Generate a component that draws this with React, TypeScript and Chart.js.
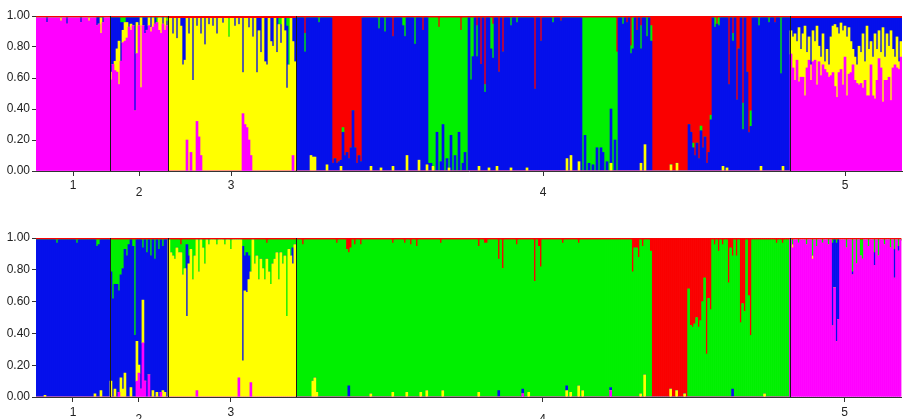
import React, { useEffect, useRef } from "react";
import { Chart, registerables } from "chart.js";

Chart.register(...registerables);

// cluster indices (stack order bottom -> top)
const M = 0, Y = 1, B = 2, G = 3, R = 4;
const CLUSTER_NAMES = ["Cluster 1", "Cluster 2", "Cluster 3", "Cluster 4", "Cluster 5"];
const CLUSTER_COLORS = ["#FF00FF", "#FFFF00", "#0510EB", "#00F000", "#FA0000"];

const POPULATIONS = ["1", "2", "3", "4", "5"];
const POP_SIZES = [37, 29, 64, 247, 56];
const Y_TICKS = [0, 0.2, 0.4, 0.6, 0.8, 1.0];

// runs of individuals: [count, dominant cluster, thin top fringe (cluster 5)]
const TOP_BLOCKS: number[][] = [
  [37, M, 0.012], [29, M, 0.012], [64, Y, 0.015],
  [18, B, 0.012], [15, R, 0.0], [33, B, 0.012], [20, G, 0.012], [57, B, 0.012],
  [18, G, 0.012], [17, B, 0.012], [30, R, 0.0], [39, B, 0.012],
  [56, M, 0.015],
];

// admixture: [individual index, cluster, proportion]
const TOP_ADMIX: number[][] = [
  [5, B, .03], [12, Y, .02], [15, B, .04], [22, B, .03], [26, Y, .02], [30, B, .05], [31, B, .04], [32, Y, .1], [33, B, .03],
  [37, B, .35], [37, Y, .05], [38, B, .3], [39, B, .28], [39, Y, .06], [40, B, .2], [40, Y, .15], [41, B, .15], [41, Y, .28],
  [42, B, .25], [42, G, .03], [43, B, .05], [43, Y, .08], [43, G, .03], [44, G, .03], [44, Y, .12], [45, Y, .1], [45, B, .03],
  [46, B, .06], [47, Y, .04], [47, B, .04], [48, B, .05], [49, B, .6], [50, Y, .2], [50, B, .03], [51, B, .05], [52, Y, .45],
  [53, B, .05], [54, B, .1], [55, B, .08], [56, Y, .05], [57, B, .06], [57, Y, .03], [58, Y, .06], [59, B, .04], [60, G, .03],
  [61, Y, .08], [62, Y, .1], [63, B, .04], [64, Y, .08], [65, B, .03], [65, G, .02],
  [68, B, .1], [70, B, .13], [72, B, .05], [73, B, .3], [74, B, .27], [76, B, .1], [78, B, .4], [80, B, .05], [82, B, .1],
  [84, B, .17], [86, B, .04], [88, B, .05], [90, B, .1], [93, B, .03], [96, G, .12], [99, B, .05], [101, B, .04], [103, B, .35],
  [106, B, .06], [108, B, .12], [110, B, .35], [111, B, .08], [112, B, .22], [114, B, .28], [115, B, .3], [117, B, .15],
  [118, B, .18], [120, B, .22], [121, G, .04], [122, B, .12], [122, G, .04], [124, B, .08], [125, B, .4], [125, G, .05],
  [126, G, .3], [128, B, .15], [129, B, .28],
  [75, M, .2], [77, M, .12], [80, M, .32], [81, M, .22], [82, M, .1], [103, M, .37], [104, M, .3], [105, M, .28], [106, M, .2],
  [107, M, .1], [128, M, .1],
  [134, R, .1], [134, G, .12], [137, Y, .1], [138, Y, .09], [139, Y, .09], [145, Y, .04], [141, G, .03],
  [148, B, .05], [149, B, .08], [150, B, .05], [151, B, .06], [152, B, .04], [152, Y, .03], [153, B, .25], [153, G, .03],
  [154, B, .1], [155, B, .12], [156, B, .08], [157, B, .15], [158, B, .39], [159, B, .15], [160, B, .05], [161, B, .1], [162, B, .06],
  [171, G, .07], [174, G, .09], [178, R, .12], [183, G, .05], [184, G, .12], [189, G, .17], [193, R, .08], [167, Y, .03],
  [172, Y, .02], [178, Y, .03], [185, Y, .1], [191, Y, .07], [195, Y, .04],
  [196, B, .05], [197, B, .05], [200, B, .25], [202, B, .06], [203, B, .3], [205, B, .08], [207, B, .23], [209, B, .1],
  [211, B, .25], [213, B, .05], [214, B, .12], [201, R, .06], [212, R, .08], [198, Y, .03], [206, Y, .02],
  [217, G, .4], [218, G, .25], [220, G, .2], [220, R, .05], [222, R, .3], [224, R, .43], [224, G, .05], [227, G, .2],
  [228, G, .22], [228, R, .04], [231, R, .35], [233, R, .22], [237, G, .05], [249, R, .46], [252, R, .15], [221, Y, .03],
  [226, Y, .02], [230, Y, .03], [237, Y, .02], [245, Y, .02], [265, Y, .08], [267, Y, .1], [271, Y, .06], [240, G, .03],
  [258, G, .03], [262, R, .02],
  [274, B, .23], [276, B, .05], [278, B, .04], [280, B, .15], [282, B, .15], [283, B, .12], [285, B, .06], [287, B, .35],
  [287, Y, .05], [289, B, .2], [290, R, .22],
  [293, G, .04], [295, R, .03], [297, R, .18], [297, G, .05], [298, G, .2], [300, R, .08], [302, G, .15], [302, R, .05],
  [302, Y, .05], [304, Y, .17], [305, G, .12], [307, R, .05], [307, G, .1],
  [317, Y, .04], [320, Y, .05], [326, B, .3], [327, B, .25], [328, B, .15], [328, G, .03], [329, B, .1], [330, B, .18],
  [331, B, .08], [332, B, .26], [332, G, .03], [333, B, .15], [334, B, .22], [335, B, .05], [336, B, .12], [337, B, .33], [337, G, .03],
  [339, G, .06], [340, R, .04], [341, G, .05], [343, Y, .03], [345, Y, .02], [346, R, .43], [348, R, .1], [348, G, .05],
  [350, R, .53], [351, R, .2], [353, R, .55], [353, G, .17], [355, R, .35], [356, R, .74], [357, R, .6], [357, G, .1],
  [361, G, .05], [362, Y, .03], [366, G, .03], [369, R, .03], [372, G, .36], [373, Y, .03],
];

// population 5 (first run): per-individual proportions of clusters 3 and 2
const TOP_POP5_BLUE = [.08, .12, .1, .15, .06, .2, .1, .05, .22, .12, .3, .08, .15, .05, .18, .25, .1, .28, .2, .3, .12, .05, .04, .06, .1, .03, .08, .05, .12, .06, .15, .2, .25, .3, .18, .22, .1, .28, .05, .2, .15, .25, .1, .2, .08, .22, .06, .25, .1, .18, .08, .2, .25, .12, .28, .15];
const TOP_POP5_YELLOW = [.15, .2, .3, .12, .35, .18, .28, .45, .1, .15, .1, .2, .12, .38, .1, .12, .2, .05, .15, .08, .25, .3, .4, .45, .25, .3, .35, .2, .38, .3, .2, .1, .15, .12, .25, .2, .35, .12, .45, .3, .15, .25, .42, .2, .18, .1, .48, .15, .3, .2, .45, .12, .05, .2, .05, .1];

const BOTTOM_BLOCKS: number[][] = [
  [37, B, 0.012], [29, B, 0.012], [64, Y, 0.012],
  [178, G, 0.012], [30, R, 0.0], [39, G, 0.012],
  [56, M, 0.012],
];

const BOTTOM_ADMIX: number[][] = [
  [4, Y, .01], [10, G, .02], [20, G, .02], [29, Y, .02], [30, G, .04], [31, G, .03], [32, Y, .04],
  [37, G, .2], [37, Y, .1], [38, G, .37], [39, G, .28], [39, Y, .05], [40, G, .28], [41, G, .32], [41, M, .03], [42, G, .22],
  [42, Y, .12], [43, G, .18], [43, Y, .05], [44, G, .06], [44, Y, .15], [45, G, .1], [46, G, .03], [47, Y, .06], [48, G, .04],
  [49, G, .6], [50, Y, .25], [50, M, .1], [51, M, .15], [51, Y, .05], [52, M, .05], [53, M, .34], [53, Y, .27], [53, G, .05],
  [54, M, .1], [55, G, .08], [56, M, .14], [57, G, .1], [58, Y, .04], [59, G, .12], [60, Y, .03], [61, G, .06], [62, M, .03],
  [63, G, .04], [63, Y, .04], [64, Y, .03],
  [67, G, .08], [68, G, .1], [69, G, .12], [70, G, .05], [71, G, .08], [72, G, .05], [72, R, .03], [73, G, .22], [74, G, .18],
  [75, B, .45], [75, G, .03], [76, G, .1], [76, B, .05], [77, G, .06], [78, G, .25], [79, G, .1], [80, M, .04], [81, G, .2],
  [83, G, .05], [84, G, .15], [86, G, .03], [90, G, .03], [94, G, .03], [97, G, .06], [101, M, .12], [103, B, .72], [103, G, .04],
  [104, B, .22], [104, G, .1], [105, B, .25], [105, G, .08], [106, B, .15], [106, G, .1], [107, G, .2], [107, M, .09],
  [109, G, .15], [110, G, .1], [111, G, .25], [112, G, .12], [113, G, .18], [114, G, .25], [115, G, .1], [115, R, .02],
  [116, G, .2], [117, G, .28], [118, G, .15], [119, G, .12], [120, G, .08], [121, G, .25], [122, G, .08], [123, G, .15],
  [124, G, .1], [125, G, .48], [126, G, .06], [127, G, .1], [128, B, .1], [128, G, .05], [129, G, .03],
  [133, R, .03], [138, Y, .1], [139, Y, .12], [140, Y, .03], [150, R, .02], [155, R, .06], [156, R, .08], [156, B, .07],
  [157, R, .05], [159, R, .03], [162, R, .03], [167, Y, .02], [178, R, .02], [178, Y, .03], [184, R, .02], [185, Y, .03],
  [187, R, .03], [190, R, .04], [192, Y, .03], [195, Y, .04], [202, R, .02], [203, Y, .04], [221, R, .04], [221, Y, .03],
  [224, R, .02], [225, R, .02], [231, R, .12], [231, B, .04], [233, R, .18], [240, R, .03], [243, B, .03], [243, M, .02],
  [246, Y, .03], [249, R, .26], [251, R, .04], [252, R, .17], [263, R, .02], [265, B, .03], [265, Y, .04], [267, Y, .03],
  [271, R, .02], [271, Y, .07], [273, Y, .04], [287, M, .04], [287, B, .02], [298, R, .2], [299, R, .05], [300, R, .05],
  [301, R, .11], [302, Y, .02], [303, R, .04], [304, Y, .14], [307, R, .07],
  [317, Y, .05], [320, Y, .04], [324, Y, .02], [326, G, .68], [327, G, .45], [328, G, .44], [329, G, .46], [330, G, .5],
  [331, G, .44], [332, G, .48], [333, G, .6], [334, G, .75], [335, G, .27], [336, G, .62], [337, G, .55],
  [339, R, .03], [341, R, .07], [343, R, .03], [346, R, .27], [347, R, .05], [348, R, .1], [348, B, .05], [350, R, .1],
  [352, R, .52], [353, R, .4], [354, R, .45], [356, R, .35], [357, R, .6], [364, Y, .02], [370, R, .02], [373, R, .02],
  [378, G, .03], [378, Y, .02], [381, G, .02], [385, G, .03], [388, G, .1], [388, Y, .02], [390, G, .04], [393, G, .02],
  [396, G, .03], [398, B, .52], [398, G, .02], [399, B, .3], [400, B, .62], [400, G, .02], [401, B, .5], [405, G, .05],
  [408, G, .2], [408, B, .02], [410, G, .15], [412, G, .1], [413, G, .12], [416, G, .04], [419, B, .08], [419, G, .08],
  [421, G, .1], [424, G, .03], [427, G, .05], [429, B, .18], [429, G, .06], [431, G, .04], [431, B, .03],
];

const FONT_FAMILY = "'Liberation Sans', Arial, sans-serif";

function buildRows(blocks: number[][], admix: number[][], extra: number[][] = []): number[][] {
  const rows: number[][] = [];
  const dominant: number[] = [];
  blocks.forEach(([count, dom, fringe]) => {
    for (let k = 0; k < count; k++) {
      const r = [0, 0, 0, 0, 0];
      r[R] += fringe;
      rows.push(r);
      dominant.push(dom);
    }
  });
  [...admix, ...extra].forEach(([i, c, f]) => {
    if (rows[i]) rows[i][c] += f;
  });
  rows.forEach((r, i) => {
    const d = dominant[i];
    let other = 0;
    r.forEach((v, c) => { if (c !== d) other += v; });
    r[d] = Math.max(0, 1 - other);
  });
  return rows;
}

const TOP_EXTRA: number[][] = [];
TOP_POP5_BLUE.forEach((v, k) => TOP_EXTRA.push([377 + k, B, v]));
TOP_POP5_YELLOW.forEach((v, k) => TOP_EXTRA.push([377 + k, Y, v]));

const TOP_ROWS = buildRows(TOP_BLOCKS, TOP_ADMIX, TOP_EXTRA);
const BOTTOM_ROWS = buildRows(BOTTOM_BLOCKS, BOTTOM_ADMIX);

const STARTS: number[] = [];
POP_SIZES.reduce((s, sz) => { STARTS.push(s); return s + sz; }, 0);
const CENTERS = POP_SIZES.map((sz, k) => STARTS[k] + Math.floor((sz - 1) / 2));
const BOUNDARIES = STARTS.slice(1);

type PanelProps = { rows: number[][]; height: number; padTop: number; plotHeight: number; labelPad: number };

function Panel({ rows, height, padTop, plotHeight, labelPad }: PanelProps) {
  const ref = useRef<HTMLCanvasElement | null>(null);
  useEffect(() => {
    if (!ref.current) return;
    const axisH = height - padTop - plotHeight;
    const separators = {
      id: "popSeparators",
      afterDatasetsDraw(chart: any) {
        const { ctx, chartArea, scales } = chart;
        const x = scales.x;
        ctx.save();
        ctx.strokeStyle = "#1a1a1a";
        ctx.lineWidth = 1;
        BOUNDARIES.forEach((b) => {
          const px = Math.round((x.getPixelForValue(b - 1) + x.getPixelForValue(b)) / 2) + 0.5;
          ctx.beginPath();
          ctx.moveTo(px, chartArea.top);
          ctx.lineTo(px, chartArea.bottom);
          ctx.stroke();
        });
        ctx.restore();
      },
    };
    const chart = new Chart(ref.current, {
      type: "bar",
      data: {
        labels: rows.map((_, i) => String(i + 1)),
        datasets: CLUSTER_NAMES.map((name, c) => ({
          label: name,
          data: rows.map((r) => r[c]),
          backgroundColor: CLUSTER_COLORS[c],
          borderWidth: 0,
          barPercentage: 1,
          categoryPercentage: 1,
          stack: "q",
        })),
      },
      options: {
        responsive: false,
        animation: false,
        events: [],
        layout: { padding: { top: padTop, right: 6, left: 0, bottom: 0 } },
        plugins: { legend: { display: false }, tooltip: { enabled: false } },
        scales: {
          x: {
            stacked: true,
            offset: true,
            grid: {
              display: true,
              offset: false,
              drawOnChartArea: false,
              drawTicks: true,
              tickLength: 5,
              color: (ctx: any) => (CENTERS.includes(ctx.index) ? "#333" : "rgba(0,0,0,0)"),
            },
            border: { display: true, color: "#333", width: 1 },
            ticks: {
              autoSkip: false,
              maxRotation: 0,
              minRotation: 0,
              padding: labelPad,
              color: "#222",
              font: { family: FONT_FAMILY, size: 12, lineHeight: "7px" },
              callback: (_v: any, i: number) => {
                const k = CENTERS.indexOf(i);
                if (k < 0) return "";
                return k % 2 === 1 ? ["", POPULATIONS[k]] : POPULATIONS[k];
              },
            },
            afterFit: (s: any) => { s.height = axisH; },
          },
          y: {
            stacked: true,
            min: 0,
            max: 1,
            afterBuildTicks: (s: any) => { s.ticks = Y_TICKS.map((v) => ({ value: v })); },
            ticks: {
              padding: 2,
              color: "#222",
              font: { family: FONT_FAMILY, size: 12 },
              callback: (v: any) => Number(v).toFixed(2),
            },
            grid: { drawOnChartArea: false, drawTicks: true, tickLength: 4, color: "#333" },
            border: { display: false },
            afterFit: (s: any) => { s.width = 36; },
          },
        },
      },
      plugins: [separators],
    });
    return () => chart.destroy();
  }, [rows, height, padTop, plotHeight, labelPad]);
  return <canvas ref={ref} width={908} height={height} style={{ display: "block" }} />;
}

export default function App() {
  return (
    <div style={{ position: "absolute", left: 0, top: 0, width: 908, height: 419, background: "#fff", overflow: "hidden" }}>
      <Panel rows={TOP_ROWS} height={212} padTop={16} plotHeight={155} labelPad={6.5} />
      <Panel rows={BOTTOM_ROWS} height={207} padTop={26} plotHeight={159} labelPad={7.5} />
    </div>
  );
}
